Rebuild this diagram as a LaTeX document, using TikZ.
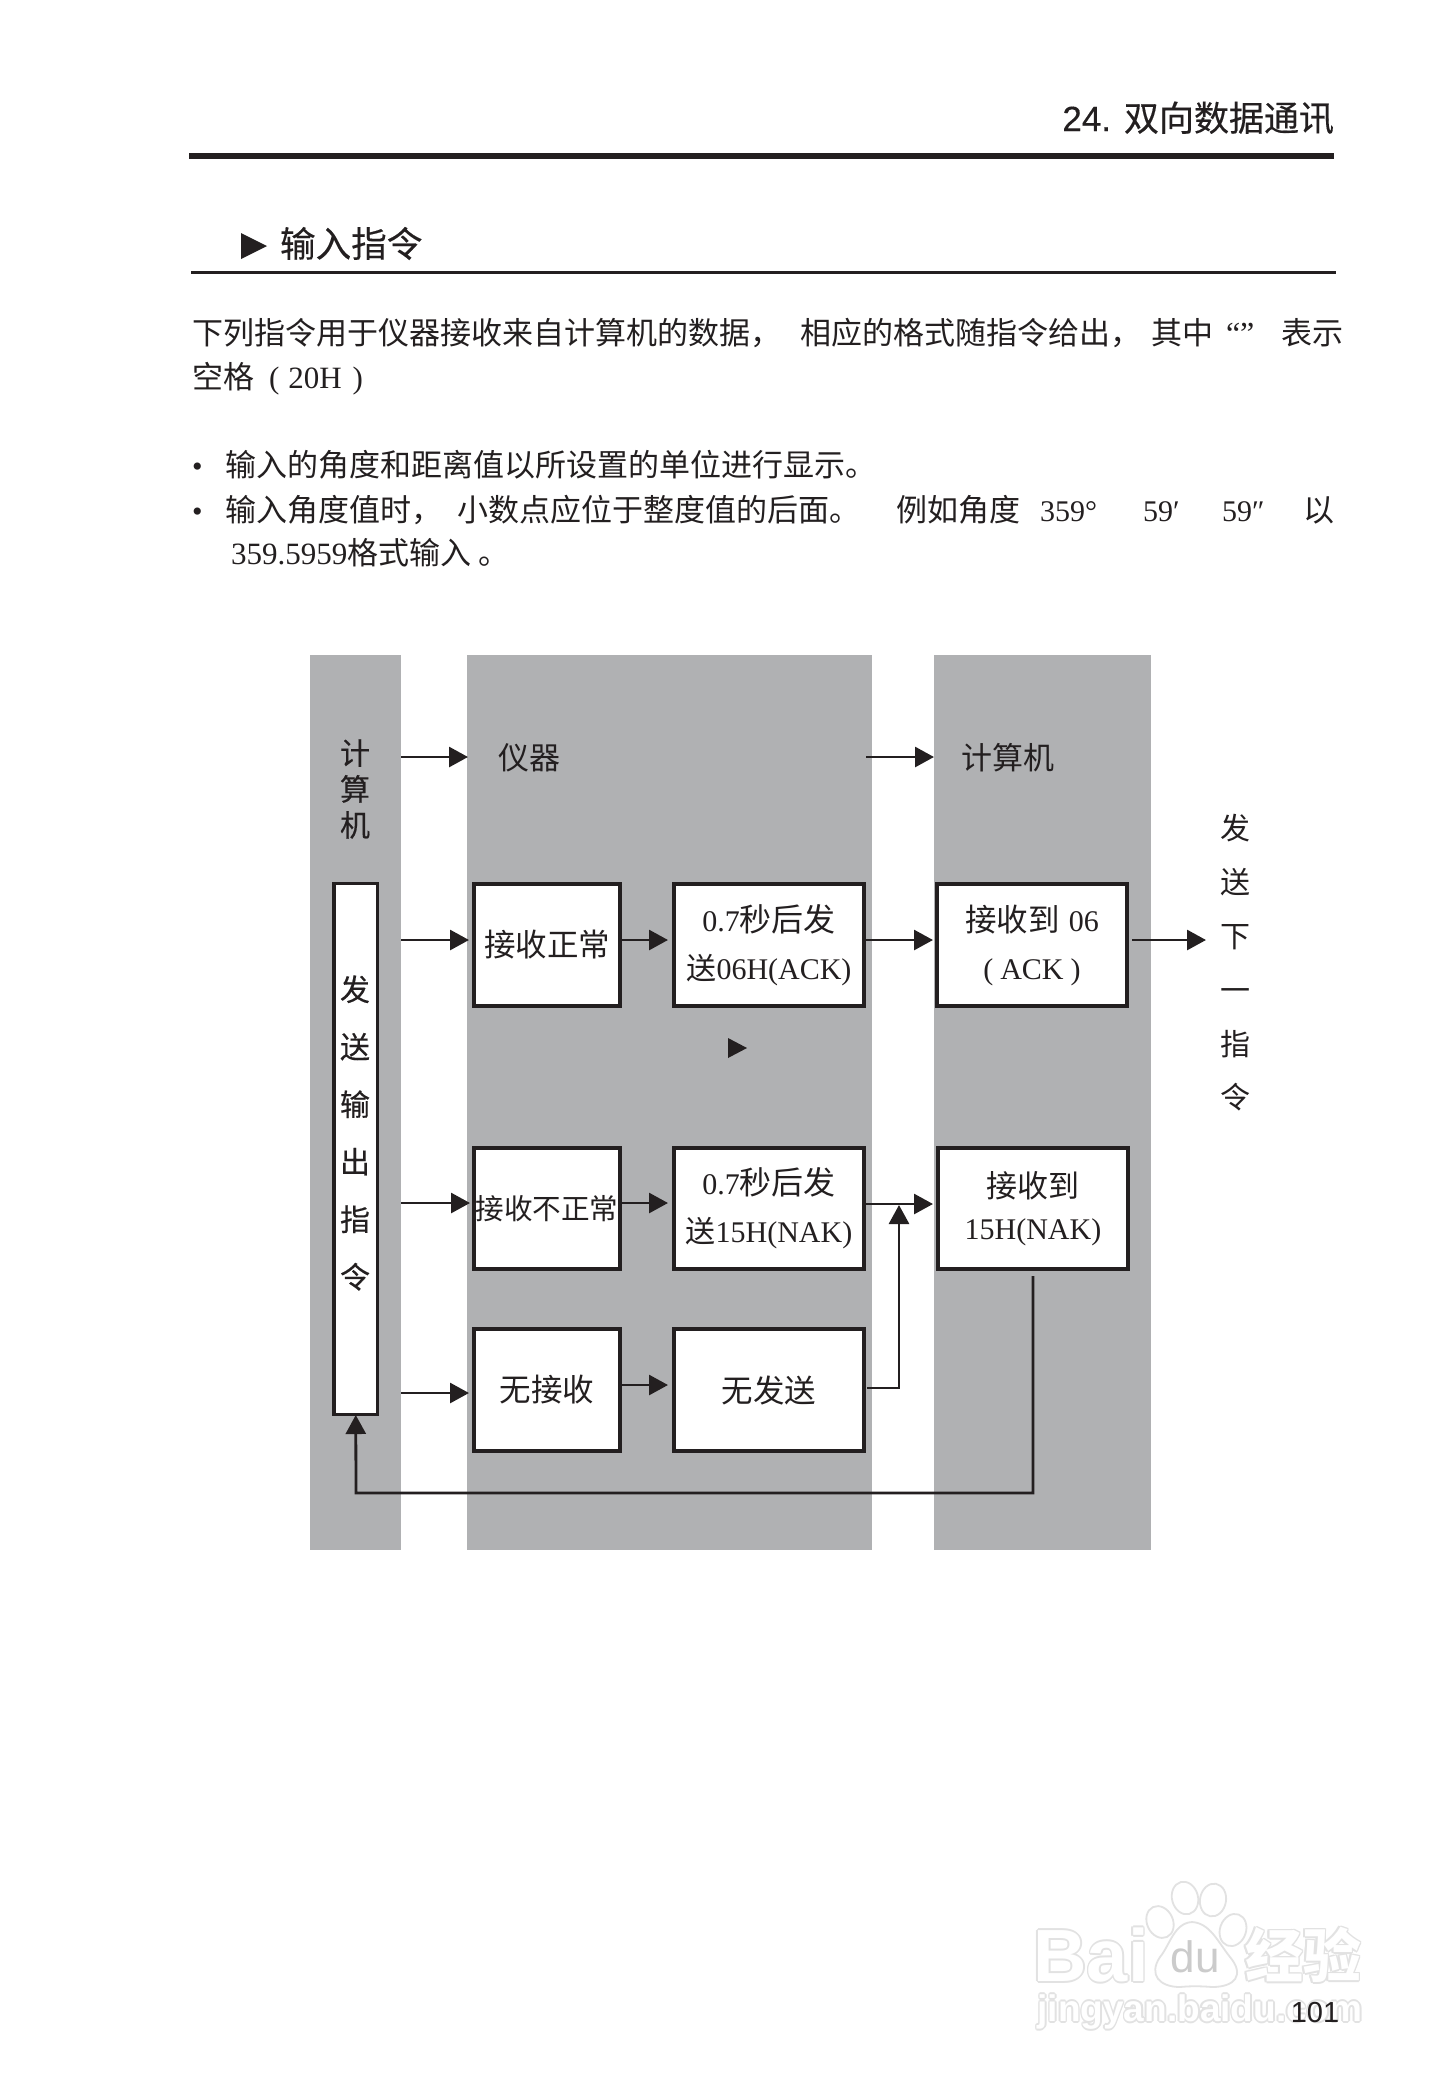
\documentclass[tikz,border=0pt]{standalone}
\usepackage{fontspec}
\setmainfont{Liberation Serif}
\newfontfamily\cjk{Noto Sans CJK SC}
\newfontfamily\cjkm[FakeBold=0.35]{Noto Sans CJK SC}
\newfontfamily\hsans{Liberation Sans}
\newfontfamily\hsansm[FakeBold=0.3]{Liberation Sans}
\usetikzlibrary{arrows.meta,shapes.geometric}
\definecolor{ink}{HTML}{231F20}
\definecolor{band}{HTML}{B0B1B3}
\definecolor{wmline}{HTML}{E2E2E2}
\newcommand{\fs}[2]{\fontsize{#1}{#2}\selectfont}
\newcommand{\rect}[7]{\node[#1,minimum width={(#5-#3)*1pt},minimum height={(#6-#4)*1pt}] (#2) at ({(#3+#5)/2},{(#4+#6)/2}) {#7};}
\newcommand{\wmo}[3]{\rlap{\hspace*{#1pt}\raisebox{#2pt}{\textcolor{wmline}{#3}}}}
\newcommand{\wmtext}[1]{\leavevmode\wmo{-1.6}{0}{#1}\wmo{1.6}{0}{#1}\wmo{0}{-1.6}{#1}\wmo{0}{1.6}{#1}\wmo{-1.1}{-1.1}{#1}\wmo{1.1}{-1.1}{#1}\wmo{-1.1}{1.1}{#1}\wmo{1.1}{1.1}{#1}\textcolor{white}{#1}}
\tikzset{
  band/.style={fill=band,draw=none,inner sep=0pt,outer sep=0pt},
  whitebox/.style={fill=white,draw=ink,line width=3.5pt,inner sep=0pt,outer sep=0pt,align=center,text=ink},
  boxfont/.style={font=\fs{30}{48}},
  arr/.style={draw=ink,line width=2.8pt,-{Triangle[length=19pt,width=20pt]},shorten >=4pt},
  plain/.style={text=ink,inner sep=0pt,outer sep=0pt},
  body/.style={plain,anchor=base west,font=\fs{31}{31}\cjk},
  bodyl/.style={plain,anchor=base west,font=\fs{30}{30}},
  vtext/.style={plain,align=center},
  wmk/.style={inner sep=0pt,outer sep=0pt,anchor=center},
  pawtoe/.style={ellipse,fill=white,draw=wmline,line width=1.8pt,inner sep=0pt,outer sep=0pt},
}
\begin{document}
\begin{tikzpicture}[x=1pt,y=-1pt]
\useasboundingbox (0,0) rectangle (1456,2097);
\fill[white] (0,0) rectangle (1456,2097);
% ---- page header
\node[plain,anchor=base east,font=\fs{35}{35}] (hdr) at (1334,131) {{\hsansm 24. }{\cjkm 双向数据通讯}};
\fill[ink] (189,153) rectangle (1334,159);
\fill[ink] (241,233) -- (267,246) -- (241,259) -- cycle;
\node[plain,anchor=base west,font=\fs{35.6}{35.6}\cjkm] (sec) at (280,257) {输入指令};
\fill[ink] (191,270.5) rectangle (1336,273.5);
% ---- paragraph
\node[body] (p1) at (192,344) {下列指令用于仪器接收来自计算机的数据，};
\node[body] (p1b) at (800,344) {相应的格式随指令给出，};
\node[body] (p1c) at (1151,344) {其中};
\node[plain,anchor=base west,font=\fs{32}{32}] (p1q) at (1226,344) {“”};
\node[body] (p1e) at (1281,344) {表示};
\node[plain,anchor=base west,font=\fs{31}{31}] (p2) at (192,388) {{\cjk 空格}\hspace{15pt}(\hspace{9pt}20H\hspace{11pt})};
\node[bodyl] (b1) at (192,476) {•};
\node[body] (l1) at (225,476) {输入的角度和距离值以所设置的单位进行显示。};
\node[bodyl] (b2) at (192,521) {•};
\node[body] (l2a) at (225,521) {输入角度值时，};
\node[body] (l2b) at (457,521) {小数点应位于整度值的后面。};
\node[body] (l2c) at (896,521) {例如角度};
\node[bodyl] (l2d) at (1040,521) {359°};
\node[bodyl] (l2e) at (1143,521) {59′};
\node[bodyl] (l2f) at (1222,521) {59″};
\node[body] (l2g) at (1303,521) {以};
\node[plain,anchor=base west,font=\fs{31}{31}] (l3) at (231,564) {359.5959{\cjk 格式输入 。}};
% ---- bands
\rect{band}{col1}{310}{655}{401}{1550}{}
\rect{band}{col2}{467}{655}{872}{1550}{}
\rect{band}{col3}{934}{655}{1151}{1550}{}
% ---- boxes
\rect{whitebox}{send}{334}{883.5}{377.5}{1414.5}{}
\rect{whitebox,boxfont}{a1}{474}{884}{620}{1006}{\cjk\fs{31.5}{48}接收正常}
\rect{whitebox,boxfont}{b1x}{674}{884}{864}{1006}{0.7{\cjk\fs{32}{48}秒后发}\\{\cjk 送}06H(ACK)}
\rect{whitebox,boxfont}{c1}{937}{884}{1127}{1006}{\raisebox{-2.5pt}{{\cjk\fs{31.5}{48}接收到}\hspace{9pt}06}\\\raisebox{-2.5pt}{(\hspace{7pt}ACK\hspace{7pt})}}
\rect{whitebox,boxfont}{a2}{474}{1148}{620}{1269}{\cjk\fs{28.6}{48}接收不正常}
\rect{whitebox,boxfont}{b2x}{674}{1148}{864}{1269}{0.7{\cjk\fs{32}{48}秒后发}\\{\cjk 送}15H(NAK)}
\rect{whitebox,boxfont,font=\fs{30}{42}}{c2}{938}{1148}{1128}{1269}{\raisebox{2.5pt}{\cjk\fs{31}{42}接收到}\\\raisebox{2.5pt}{15H(NAK)}}
\rect{whitebox,boxfont}{a3}{474}{1329}{620}{1451}{\cjk\fs{31.5}{48}无接收}
\rect{whitebox,boxfont}{b3}{674}{1329}{864}{1451}{\cjk\fs{31.5}{48}无发送}
% ---- labels
\node[vtext,font=\fs{30}{36}\cjkm] (lc1) at (355,789) {计\\算\\机};
\node[vtext,font=\fs{30}{57.5}\cjkm] (lsend) at (355,1133) {发\\送\\输\\出\\指\\令};
\node[plain,font=\fs{31}{31}\cjk] (lc2) at (529,758) {仪器};
\node[plain,font=\fs{31}{31}\cjk] (lc3) at (1008,758) {计算机};
\node[vtext,font=\fs{30}{53.8}\cjk] (lnext) at (1235,963) {发\\送\\下\\一\\指\\令};
% ---- connectors
\draw[arr,shorten >=-1pt] (col1.east |- 0,757) -- (col2.west |- 0,757);
\coordinate (t3a) at (866,757);
\draw[arr,shorten >=0pt] (t3a) -- (col3.west |- 0,757);
\draw[arr,shorten >=5pt] (col1.east |- 0,940) -- (a1.west |- 0,940);
\draw[arr,shorten >=6pt] (a1.east |- 0,940) -- (b1x.west |- 0,940);
\draw[arr] (b1x.east |- 0,940) -- (c1.west |- 0,940);
\coordinate (nx) at (1206,940);
\draw[arr,shorten <=5pt,shorten >=0pt] (c1.east |- 0,940) -- (nx);
\draw[arr,shorten >=4pt] (col1.east |- 0,1203) -- (a2.west |- 0,1203);
\draw[arr,shorten >=6pt] (a2.east |- 0,1203) -- (b2x.west |- 0,1203);
\draw[arr,shorten >=5pt] (b2x.east |- 0,1204) -- (c2.west |- 0,1204);
\coordinate (joint) at (899,1205);
\draw[arr,shorten >=0pt,shorten <=3pt] (b3.east |- 0,1388) -| (joint);
\draw[arr,shorten >=5pt] (col1.east |- 0,1393) -- (a3.west |- 0,1393);
\draw[arr,shorten >=6pt] (a3.east |- 0,1385) -- (b3.west |- 0,1385);
\coordinate (ret) at (356,1493);
\draw[arr,shorten <=7pt,shorten >=0.5pt] (c2.south) |- (ret) -- (send.south);
\fill[ink] (728,1038) -- (747,1048) -- (728,1058) -- cycle;
% ---- watermark
\node[pawtoe,minimum width=26pt,minimum height=33pt,rotate=15] (toe2) at (1185,1898) {};
\node[pawtoe,minimum width=26pt,minimum height=33pt,rotate=-10] (toe3) at (1213,1900) {};
\node[pawtoe,minimum width=26pt,minimum height=33pt,rotate=25] (toe1) at (1160,1922) {};
\node[pawtoe,minimum width=26pt,minimum height=33pt,rotate=-20] (toe4) at (1233,1930) {};
\draw[wmline,line width=1.8pt,fill=white] (1192,1922) .. controls (1174,1923) and (1170,1945) .. (1160,1957)
  .. controls (1148,1975) and (1160,1987) .. (1180,1987)
  .. controls (1190,1986) and (1200,1986) .. (1212,1987)
  .. controls (1235,1987) and (1245,1975) .. (1230,1957)
  .. controls (1218,1942) and (1210,1923) .. (1192,1922) -- cycle;
\node[wmk,font=\fs{74}{74}\hsans\bfseries] (wmbai) at (1091,1955) {\wmtext{Bai}};
\node[plain,text=wmline!90!black,font=\fs{44}{44}\hsans] (wmdu) at (1195,1957) {du};
\node[wmk,font=\fs{58}{58}\cjk\bfseries] (wmjy) at (1303,1955) {\wmtext{经验}};
\node[wmk,font=\fs{37}{37}\hsans\bfseries] (wmurl) at (1200,2012) {\wmtext{jingyan.baidu.com}};
\node[plain,font=\fs{29}{29}\hsans] (pageno) at (1315,2012) {101};
\end{tikzpicture}
\end{document}
